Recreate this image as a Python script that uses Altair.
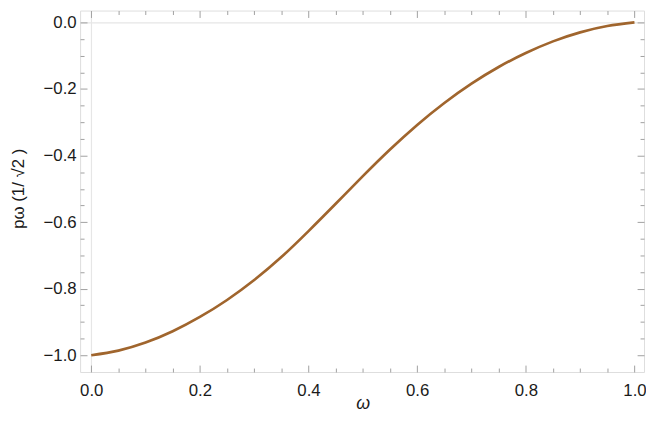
import altair as alt
import pandas as pd

# values
omega = [0.00, 0.05, 0.10, 0.15, 0.20, 0.25, 0.30, 0.35, 0.40, 0.45, 0.50,
         0.55, 0.60, 0.65, 0.70, 0.75, 0.80, 0.85, 0.90, 0.95, 1.00]
p_omega = [-1.000, -0.986, -0.962, -0.928, -0.885, -0.834, -0.774, -0.705, -0.627, -0.545, -0.462,
           -0.382, -0.308, -0.242, -0.184, -0.134, -0.092, -0.057, -0.030, -0.011, 0.000]

x_major = [0.0, 0.2, 0.4, 0.6, 0.8, 1.0]
y_major = [0.0, -0.2, -0.4, -0.6, -0.8, -1.0]
x_all = [round(i * 0.05, 2) for i in range(0, 21)]
y_all = [round(-i * 0.05, 2) for i in range(0, 21)]

df = pd.DataFrame({"omega": omega, "p": p_omega})

W, H = 571, 366
FONT = "Liberation Sans"
FRAME = "#a0a0a0"
LINE = "#a0652d"
TXT = "#1a1a1a"

xs = alt.Scale(domain=[-0.0205, 1.0176], nice=False, zero=False)
ys = alt.Scale(domain=[-1.0504, 0.0356], nice=False, zero=False)

major_test = "abs(datum.value*5 - round(datum.value*5)) < 0.01"
tick_size = {"condition": {"test": major_test, "value": 7}, "value": 4}
grid_op = {"condition": {"test": "abs(datum.value) < 0.001", "value": 1}, "value": 0}

base = alt.Chart(df)

main = base.mark_line(color=LINE, strokeWidth=2.7, interpolate="natural").encode(
    x=alt.X("omega:Q", scale=xs, axis=alt.Axis(
        orient="bottom", values=x_major, format=".1f", ticks=False, domain=False,
        grid=True, gridColor="#e6e6e6", gridWidth=1.2, gridOpacity=grid_op,
        labelPadding=11, labelFontSize=17, labelFont=FONT, labelColor=TXT,
        title="ω", titleFont=FONT, titleFontSize=18, titleFontStyle="italic",
        titleFontWeight="normal", titleColor=TXT, titleBaseline="middle",
        titleX=286, titleY=32)),
    y=alt.Y("p:Q", scale=ys, axis=alt.Axis(
        orient="left", values=y_major, format=".1f", ticks=False, domain=False,
        grid=True, gridColor="#e6e6e6", gridWidth=1.2, gridOpacity=grid_op,
        labelPadding=4, labelFontSize=17, labelFont=FONT, labelColor=TXT,
        title="pω (1/ √2 )", titleFont=FONT, titleFontSize=17, titleFontWeight="normal",
        titleColor=TXT, titleAngle=270, titleBaseline="middle", titleAlign="center",
        titleX=-62, titleY=180)),
)

inner = base.mark_line(strokeOpacity=0).encode(
    x=alt.X("omega:Q", scale=xs, axis=alt.Axis(
        orient="top", offset=-H, values=x_all, labels=False, ticks=True,
        tickSize=tick_size, tickColor=FRAME, tickWidth=1, domain=False, grid=False, title=None)),
    y=alt.Y("p:Q", scale=ys, axis=alt.Axis(
        orient="right", offset=-W, values=y_all, labels=False, ticks=True,
        tickSize=tick_size, tickColor=FRAME, tickWidth=1, domain=False, grid=False, title=None)),
)

mirror = base.mark_line(strokeOpacity=0).encode(
    x=alt.X("omega:Q", scale=xs, axis=alt.Axis(
        orient="bottom", offset=-H, values=x_all, labels=False, ticks=True,
        tickSize=tick_size, tickColor=FRAME, tickWidth=1, domain=False, grid=False, title=None)),
    y=alt.Y("p:Q", scale=ys, axis=alt.Axis(
        orient="left", offset=-W, values=y_all, labels=False, ticks=True,
        tickSize=tick_size, tickColor=FRAME, tickWidth=1, domain=False, grid=False, title=None)),
)

chart = alt.layer(main, inner, mirror).resolve_axis(x="independent", y="independent").properties(
    width=W, height=H,
    autosize=alt.AutoSizeParams(type="none"),
    padding={"left": 73, "top": 0, "right": 2, "bottom": 46},
).configure_view(stroke=FRAME, strokeWidth=1.2).configure(background="white")

chart.save("out.html", embed_options={"renderer": "svg", "actions": False})
